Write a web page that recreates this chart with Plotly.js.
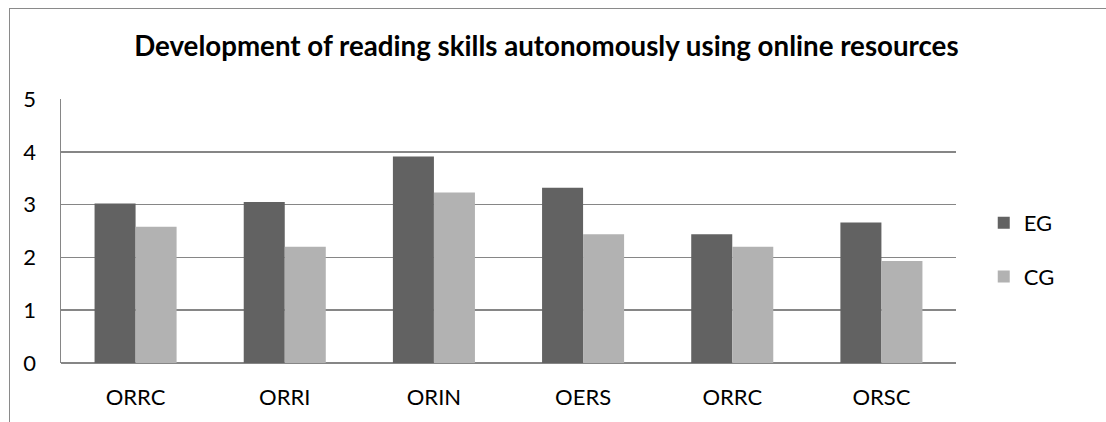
<!DOCTYPE html>
<html><head><meta charset="utf-8">
<script src="https://cdn.plot.ly/plotly-3.0.1.min.js"></script>
<style>
html,body{margin:0;padding:0;background:#fff;}
#frame{position:absolute;left:9px;top:8px;width:1200px;height:500px;border-left:1.5px solid #8a8a8a;border-top:1.5px solid #8a8a8a;}
#chart{position:absolute;left:0;top:0;width:1106px;height:422px;}
</style>
</head><body>
<div id="frame"></div>
<div id="chart"></div>
<script>
const categories = ["ORRC", "ORRI", "ORIN", "OERS", "ORRC", "ORSC"];
const egValues = [3.02, 3.05, 3.91, 3.32, 2.44, 2.66];
const cgValues = [2.58, 2.20, 3.23, 2.44, 2.20, 1.93];
const seriesNames = ["EG", "CG"];
const yTicks = [0, 1, 2, 3, 4, 5];

const idx = categories.map((c, i) => i);
const font = "Lato, Carlito, Calibri, 'Open Sans', sans-serif";

const traces = [
  {type: "bar", x: idx, y: egValues, name: seriesNames[0], legendgroup: "a",
   marker: {color: "#626262"}},
  {type: "bar", x: idx, y: cgValues, name: seriesNames[1], legendgroup: "b",
   marker: {color: "#b2b2b2"}}
];

const layout = {
  width: 1106, height: 422,
  paper_bgcolor: "rgba(0,0,0,0)", plot_bgcolor: "rgba(0,0,0,0)",
  margin: {l: 61, r: 150, t: 99, b: 59},
  barmode: "group", bargap: 0.45, bargroupgap: 0,
  font: {family: font, color: "#000", size: 22},
  title: {text: "<b>Development of reading skills autonomously using online resources</b>",
          font: {family: font, size: 27.7, color: "#000"}, x: 0.494, xanchor: "center", y: 0.89, yanchor: "middle"},
  xaxis: {tickmode: "array", tickvals: idx, ticktext: categories, range: [-0.5, 5.5],
          showgrid: false, showline: false, zeroline: false, ticks: "", ticklen: 0,
          ticklabelstandoff: 19, tickfont: {size: 22, family: font}},
  yaxis: {range: [0, 5], tickmode: "array", tickvals: yTicks, showgrid: true,
          gridcolor: "#868686", gridwidth: 1.7, zeroline: true, zerolinecolor: "#868686", zerolinewidth: 1.7,
          showline: true, linecolor: "#868686", linewidth: 1.5, ticks: "", ticklabelstandoff: 19,
          tickfont: {size: 22, family: font}},
  showlegend: true,
  legend: {x: 1.031, xanchor: "left", y: 0.428, yanchor: "middle", tracegroupgap: 22,
           font: {size: 22, family: font}, itemwidth: 30, bgcolor: "rgba(0,0,0,0)"}
};

Plotly.newPlot("chart", traces, layout, {displayModeBar: false, staticPlot: true});
</script>
</body></html>
